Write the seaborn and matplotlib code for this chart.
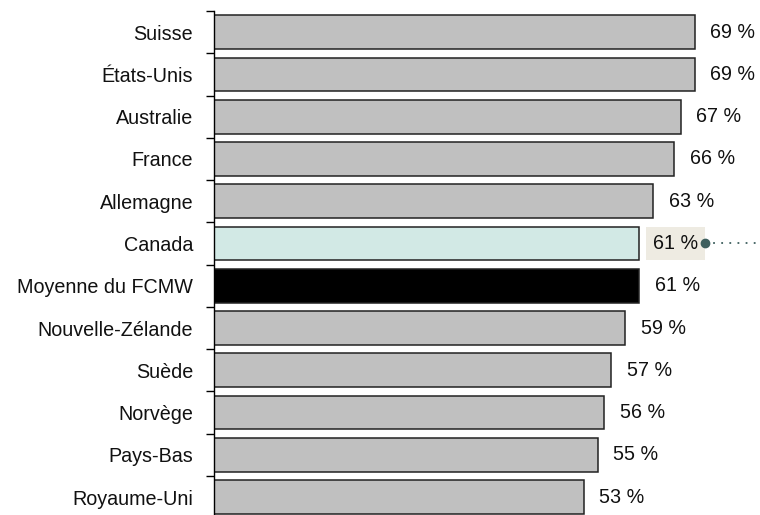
import pandas as pd
import matplotlib.pyplot as plt
import seaborn as sns

# Share of respondents, by country
countries = ['Suisse', 'États-Unis', 'Australie', 'France', 'Allemagne', 'Canada',
             'Moyenne du FCMW', 'Nouvelle-Zélande', 'Suède', 'Norvège', 'Pays-Bas',
             'Royaume-Uni']
values = [69, 69, 67, 66, 63, 61, 61, 59, 57, 56, 55, 53]

grey = '#C0C0C0'
colors = {c: grey for c in countries}
colors['Canada'] = '#D2E9E5'
colors['Moyenne du FCMW'] = '#000000'

df = pd.DataFrame({'country': countries, 'value': values})

sns.set_style('white')
plt.rcParams['font.family'] = ['Liberation Sans', 'DejaVu Sans']
fs = 14.2

fig = plt.figure(figsize=(7.6, 5.15), dpi=100)
ax = fig.add_axes([214 / 760, -0.0063, 1 - 214 / 760, 0.9849])

sns.barplot(data=df, y='country', x='value', hue='country', palette=colors,
            legend=False, orient='h', width=0.8, edgecolor='#222222',
            linewidth=1.1, saturation=1, ax=ax)

ax.set_xlim(0, 78.3)
ax.set_ylim(len(countries) - 0.5, -0.5)
ax.set_xlabel('')
ax.set_ylabel('')
ax.set_xticks([])
for s in ['top', 'right', 'bottom']:
    ax.spines[s].set_visible(False)
ax.spines['left'].set_color('black')
ax.spines['left'].set_linewidth(1)

# labels on bars, ticks between bars
ax.tick_params(axis='y', which='major', length=0, pad=15, labelsize=fs,
               labelcolor='#111111')
ax.set_yticks([i + 0.5 for i in range(-1, len(countries))], minor=True)
ax.tick_params(axis='y', which='minor', left=True, length=6, width=1,
               color='black', direction='out')

for i, (c, v) in enumerate(zip(countries, values)):
    if c == 'Canada':
        ax.annotate(f'{v} %', (v, i), xytext=(9.5, 0), textcoords='offset points',
                    va='center', ha='left', fontsize=fs, color='#111111',
                    bbox=dict(boxstyle='square,pad=0.35', fc='#EEEBE2', ec='none'))
        ax.plot([v + 9.4, 78.3], [i, i], color='#3E5F5E', linestyle=(0, (1, 3.5)),
                linewidth=1.3, clip_on=False, zorder=6)
        ax.plot([v + 9.4], [i], 'o', color='#3E5F5E', markersize=6,
                clip_on=False, zorder=7)
    else:
        ax.annotate(f'{v} %', (v, i), xytext=(11, 0), textcoords='offset points',
                    va='center', ha='left', fontsize=fs, color='#111111')

fig.savefig('out.png', dpi=100)
